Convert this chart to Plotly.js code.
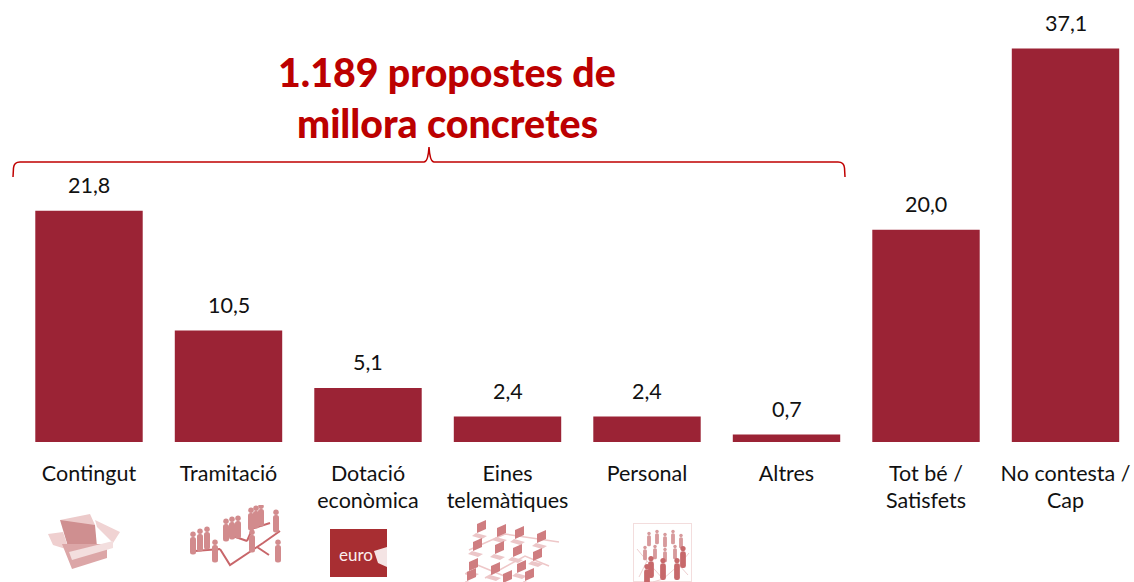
<!DOCTYPE html>
<html><head><meta charset="utf-8">
<script src="https://cdn.plot.ly/plotly-3.0.1.min.js"></script>
<style>html,body{margin:0;padding:0;background:#fff;overflow:hidden}#c{width:1134px;height:582px}</style>
</head><body><div id="c"></div>
<script>
var categories = ["Contingut","Tramitació","Dotació<br>econòmica","Eines<br>telemàtiques","Personal","Altres","Tot bé /<br>Satisfets","No contesta /<br>Cap"];
var values = [21.8,10.5,5.1,2.4,2.4,0.7,20.0,37.1];
var valueLabels = ["21,8","10,5","5,1","2,4","2,4","0,7","20,0","37,1"];
var headline = ["1.189 propostes de","millora concretes"];

var W=1134,H=582,B=442;
function px(x){return x/W;}
function py(y){return 1-y/B;}
function uri(w,h,body){
  return 'data:image/svg+xml;charset=utf-8,'+encodeURIComponent(
   '<svg xmlns="http://www.w3.org/2000/svg" width="'+w+'" height="'+h+'" viewBox="0 0 '+w+' '+h+'"><defs><filter id="b"><feGaussianBlur stdDeviation="0.6"/></filter></defs><g filter="url(#b)">'+body+'</g></svg>');
}
function person(x,y,s,c){
  return '<circle cx="'+x+'" cy="'+(y-7*s)+'" r="'+(2.2*s)+'" fill="'+c+'"/><rect x="'+(x-2.4*s)+'" y="'+(y-4.8*s)+'" width="'+(4.8*s)+'" height="'+(14*s)+'" rx="'+(2*s)+'" fill="'+c+'"/>';
}
function pc(x,y,c){
  return '<path d="M'+x+' '+y+'l9 -4v9l-9 4z" fill="'+c+'"/><path d="M'+(x-1)+' '+(y+9)+'l11 3l-5 3l-10 -3z" fill="#ecc6c8"/>';
}
var box = uri(72,56,
 '<path d="M12 6L42 0L47 11L22 12Z" fill="#eccaca"/>'+
 '<path d="M12 6L47 11L49 33L21 36Z" fill="#cf8f90"/>'+
 '<path d="M47 6L72 18L65 29L49 13Z" fill="#f0d3d3"/>'+
 '<path d="M0 20L15 18L21 36L5 31Z" fill="#efcfcf"/>'+
 '<path d="M14 30L24 55L59 44L59 30Z" fill="#dca6a7"/>'+
 '<path d="M21 38L65 27L65 34L24 46Z" fill="#f3dede"/>');
var ppl = [[8,32],[15,29],[22,27],[30,40],[41,19],[47,17],[53,16],[66,8],[71,6],[76,4],[91,10],[67,30],[93,40]];
var network = uri(96,62,
 '<path d="M10 46L35 44M35 44L45 60L78 38L95 26M45 30L62 36M62 36L70 18M66 24L85 18M72 42L84 50" stroke="#c8666a" stroke-width="2" fill="none"/>'+
 ppl.map(function(p){return person(p[0],p[1]+6,1.25,'#d28b8d');}).join(''));
var pcs = [[12,4],[32,8],[50,10],[72,14],[8,22],[30,25],[48,28],[68,32],[4,42],[26,46],[52,44],[2,52],[60,52],[38,54]];
var computers = uri(100,62,
 '<path d="M4 30L40 14L94 22M20 58L60 36L84 46M10 44L44 58" stroke="#eec7c8" stroke-width="1.5" fill="none"/>'+
 pcs.map(function(p){return pc(p[0],p[1],'#cf7d80');}).join(''));
var crowd = [[16,14],[24,12],[32,15],[40,12],[48,16],[12,28],[22,27],[32,30],[42,27],[50,32],[18,42],[30,44],[44,44],[14,50]];
var people = uri(59,59,
 '<rect x="0.5" y="0.5" width="58" height="58" fill="#fff" stroke="#f3dddd"/>'+
 '<path d="M4 26L14 38L6 54M14 38L30 56L46 42L55 52M46 42L56 30M30 56L20 59" stroke="#eecfd0" fill="none"/>'+
 crowd.map(function(p,i){return person(p[0],p[1]+2,i>8?1.2:0.8,i>8?'#c7686b':'#d79a9c');}).join(''));
var euroTile = uri(57,48,'<rect width="57" height="48" fill="#a82e31"/><path d="M44 22L57 18V38L48 34Z" fill="#f4e4e4"/>');

function img(src,x0,y0,x1,y1){
  return {source:src,xref:'paper',yref:'paper',x:px(x0),y:py(y0),sizex:(x1-x0)/W,sizey:(y1-y0)/B,sizing:'stretch',xanchor:'left',yanchor:'top',layer:'above'};
}
function brace(){
  var p=function(x,y){return px(x).toFixed(5)+','+py(y).toFixed(5);};
  return 'M'+p(13,177)+' L'+p(13.5,168)+' Q'+p(14,162)+' '+p(20,162)+' L'+p(424,162)+' Q'+p(428,162)+' '+p(429,147)+
         ' Q'+p(430,162)+' '+p(434,162)+' L'+p(838,162)+' Q'+p(844,162)+' '+p(844.5,168)+' L'+p(845,177);
}
var annotations = [
   {xref:'paper',yref:'paper',x:px(447),y:py(71),text:headline[0],showarrow:false,xanchor:'center',yanchor:'middle',font:{family:'Lato, sans-serif',size:39.3,color:'#BC0000',weight:900}},
   {xref:'paper',yref:'paper',x:px(447),y:py(122),text:headline[1],showarrow:false,xanchor:'center',yanchor:'middle',font:{family:'Lato, sans-serif',size:39.3,color:'#BC0000',weight:900}},
   {xref:'paper',yref:'paper',x:px(356),y:py(554),text:'euro',showarrow:false,xanchor:'center',yanchor:'middle',font:{family:'Lato, sans-serif',size:17,color:'#fbeeee'}}
];
values.forEach(function(v,i){
  annotations.push({xref:'x',yref:'y',x:categories[i],y:v,text:valueLabels[i],showarrow:false,xanchor:'center',yanchor:'middle',yshift:25.5,
    font:{family:'Lato, sans-serif',size:21.5,color:'#111'}});
});
var layout = {
  width:W,height:H,
  margin:{l:0,r:0,t:0,b:H-B,pad:0},
  paper_bgcolor:'#fff',plot_bgcolor:'#fff',
  showlegend:false,
  bargap:0.23,
  font:{family:'Lato, sans-serif',color:'#000'},
  xaxis:{type:'category',range:[-0.638,7.491],showgrid:false,zeroline:false,showline:false,ticks:'',tickangle:0,ticklabelstandoff:16,
         tickfont:{family:'Lato, sans-serif',size:21.5,color:'#111'},ticklen:0,automargin:false,fixedrange:true},
  yaxis:{range:[0,41.67],visible:false,fixedrange:true},
  images:[img(box,48,514,120,570),img(network,185,505,281,567),img(computers,465,520,565,582),img(people,633,523,692,582),img(euroTile,330,529,387,577)],
  shapes:[{type:'path',xref:'paper',yref:'paper',path:brace(),line:{color:'#C00000',width:1.5},fillcolor:'rgba(0,0,0,0)'}],
  annotations:annotations
};
var trace = {type:'bar',x:categories,y:values,marker:{color:'#9B2335',line:{width:0}},hoverinfo:'skip'};
Plotly.newPlot('c',[trace],layout,{displayModeBar:false,staticPlot:true});
</script></body></html>
